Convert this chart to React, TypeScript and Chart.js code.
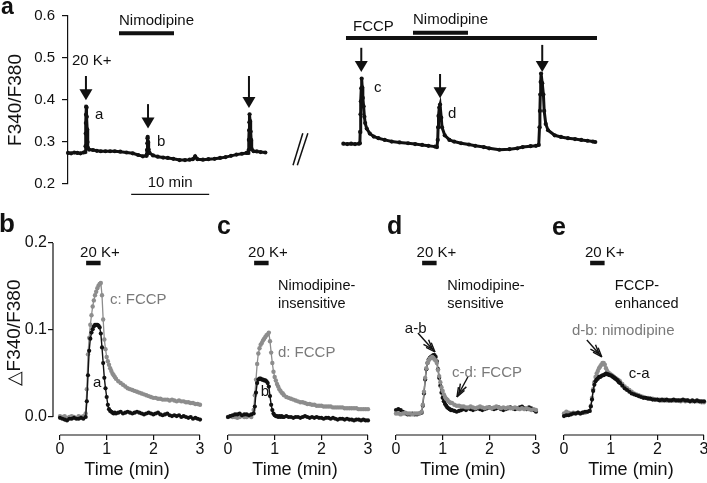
import React, { useEffect, useRef } from "react";
import { Chart, registerables } from "chart.js";

Chart.register(...registerables);

const FONT = '"Liberation Sans", Arial, Helvetica, sans-serif';
const INK = "#111111";
const GRAY = "#8d8d8d";
const GRAY_TEXT = "#7a7a7a";
const CW = 720;
const CH = 483;

// ---------------- panel a : F340/F380 ratio (time in min) ----------------
const A_Y_TICKS = [0.2, 0.3, 0.4, 0.5, 0.6];
const A_LEFT: [number, number][] = [
  [0.0, 0.274], [0.4, 0.273], [0.8, 0.275], [1.2, 0.274], [1.6, 0.273], [2.0, 0.275], [2.2, 0.276],
  [2.25, 0.29], [2.27, 0.32], [2.29, 0.345], [2.31, 0.365], [2.33, 0.384], [2.38, 0.382], [2.42, 0.36],
  [2.46, 0.33], [2.5, 0.3], [2.56, 0.286], [2.7, 0.282],
  [3.2, 0.281], [3.7, 0.279], [4.2, 0.278], [4.8, 0.278], [5.4, 0.278], [6.0, 0.278], [6.7, 0.277],
  [7.5, 0.275], [8.3, 0.273], [9.0, 0.269], [9.6, 0.266], [10.05, 0.267],
  [10.1, 0.27], [10.13, 0.281], [10.16, 0.297], [10.19, 0.309], [10.22, 0.312], [10.28, 0.3], [10.34, 0.282], [10.45, 0.274],
  [10.9, 0.268], [11.5, 0.265], [12.2, 0.263], [12.8, 0.262], [13.5, 0.26], [14.3, 0.257], [15.0, 0.257],
  [15.6, 0.258], [16.0, 0.259], [16.3, 0.266], [16.6, 0.259], [17.3, 0.258], [18.0, 0.259], [18.8, 0.26],
  [19.5, 0.262], [20.2, 0.264], [20.9, 0.267], [21.6, 0.27], [22.3, 0.272], [22.9, 0.274], [23.1, 0.274],
  [23.16, 0.281], [23.19, 0.305], [23.22, 0.328], [23.25, 0.347], [23.28, 0.366], [23.35, 0.35], [23.42, 0.325],
  [23.48, 0.305], [23.55, 0.283], [23.8, 0.278], [24.2, 0.2775], [24.7, 0.276], [25.3, 0.275],
];
const A_RIGHT: [number, number][] = [
  [35.3, 0.296], [35.8, 0.295], [36.3, 0.296], [36.8, 0.295], [37.3, 0.296], [37.42, 0.297],
  [37.46, 0.324], [37.5, 0.366], [37.55, 0.397], [37.6, 0.428], [37.65, 0.451], [37.72, 0.43], [37.8, 0.405],
  [37.9, 0.385], [38.0, 0.36], [38.1, 0.345], [38.3, 0.332], [38.7, 0.32], [39.2, 0.313], [39.8, 0.309],
  [40.6, 0.305], [41.5, 0.301], [42.5, 0.299], [43.6, 0.297], [44.5, 0.295], [45.4, 0.293], [46.2, 0.291],
  [47.05, 0.289], [47.3, 0.288],
  [47.4, 0.305], [47.45, 0.335], [47.5, 0.362], [47.6, 0.382], [47.7, 0.389], [47.85, 0.358], [47.95, 0.335],
  [48.3, 0.316], [48.9, 0.305], [49.5, 0.301], [50.4, 0.297], [51.4, 0.294], [52.2, 0.291], [53.3, 0.288],
  [54.0, 0.285], [55.3, 0.2815], [56.6, 0.283], [57.6, 0.285], [58.3, 0.288], [59.3, 0.29], [60.0, 0.291], [60.35, 0.293],
  [60.45, 0.335], [60.5, 0.374], [60.55, 0.413], [60.6, 0.443], [60.65, 0.463], [60.8, 0.44], [60.95, 0.413],
  [61.05, 0.374], [61.25, 0.343], [61.55, 0.328], [62.4, 0.316], [63.2, 0.312], [64.1, 0.309], [65.0, 0.307],
  [65.8, 0.305], [66.6, 0.303], [67.3, 0.301], [67.6, 0.3],
];

// ---------------- panels b-e : ΔF340/F380 vs time (min) ----------------
const X_TICKS = [0, 1, 2, 3];
const DY_TICKS = [0, 0.1, 0.2];
const TIME = [
  0, 0.05, 0.1, 0.15, 0.2, 0.25, 0.3, 0.35, 0.4, 0.45, 0.5,
  0.55, 0.575, 0.6, 0.625, 0.65, 0.675, 0.7, 0.725, 0.75, 0.775, 0.8, 0.825, 0.85, 0.875, 0.9, 0.925, 0.95,
  0.975, 1, 1.025, 1.05, 1.075, 1.1, 1.125, 1.15, 1.175, 1.2,
  1.25, 1.3, 1.35, 1.4, 1.45, 1.5, 1.55, 1.6, 1.65, 1.7, 1.75, 1.8, 1.85, 1.9, 1.95, 2, 2.05, 2.1, 2.15, 2.2,
  2.25, 2.3, 2.35, 2.4, 2.45, 2.5, 2.55, 2.6, 2.65, 2.7, 2.75, 2.8, 2.85, 2.9, 2.95, 3,
];
// b
const B_A = [
  -0.001, -0.002, -0.003, -0.004, -0.002, -0.002, -0.001, -0.002, -0.002, -0.001, -0.002,
  0.0, 0.018, 0.048, 0.076, 0.09, 0.097, 0.101, 0.104, 0.106, 0.106, 0.106, 0.105, 0.103, 0.096, 0.08, 0.062, 0.045,
  0.033, 0.023, 0.014, 0.009, 0.007, 0.006, 0.005, 0.004, 0.005, 0.004,
  0.005, 0.006, 0.004, 0.005, 0.006, 0.005, 0.004, 0.005, 0.006, 0.005, 0.004, 0.003, 0.004, 0.005, 0.004,
  0.003, 0.004, 0.005, 0.003, 0.002, 0.003, 0.004, 0.002, 0.001, 0.002, 0.001, 0.002, 0.0, 0.001, 0.0,
  -0.001, 0.0, -0.002, -0.001, -0.002, -0.003,
];
const B_C = [
  0.001, 0.0, 0.001, -0.001, 0.0, 0.001, 0.0, -0.001, 0.001, 0.0, 0.001,
  0.004, 0.032, 0.072, 0.091, 0.106, 0.117, 0.127, 0.134, 0.14, 0.144, 0.148, 0.151, 0.153, 0.154, 0.14, 0.112, 0.089,
  0.078, 0.069, 0.064, 0.06, 0.056, 0.053, 0.05, 0.048, 0.046, 0.044,
  0.041, 0.039, 0.037, 0.035, 0.033, 0.032, 0.031, 0.03, 0.029, 0.028, 0.027, 0.026, 0.025, 0.024, 0.023,
  0.022, 0.022, 0.021, 0.021, 0.02, 0.02, 0.02, 0.019, 0.02, 0.019, 0.018, 0.019, 0.018, 0.018, 0.017,
  0.017, 0.016, 0.016, 0.015, 0.015, 0.014,
];
// c
const C_B = [
  0.0, 0.001, 0.002, 0.003, 0.003, 0.004, 0.002, 0.003, 0.003, 0.002, 0.003,
  0.004, 0.012, 0.028, 0.039, 0.043, 0.044, 0.044, 0.043, 0.043, 0.042, 0.042, 0.041, 0.039, 0.035, 0.024, 0.014, 0.008,
  0.004, 0.002, 0.001, 0.001, 0.0, 0.001, 0.0, 0.001, 0.0, 0.0,
  0.001, 0.0, 0.0, -0.001, 0.0, 0.0, -0.001, 0.0, 0.001, 0.0, -0.001, 0.0, -0.001, 0.0, -0.001,
  -0.001, -0.002, -0.001, -0.001, -0.002, -0.001, -0.002, -0.003, -0.002, -0.002, -0.003, -0.002, -0.003, -0.003, -0.004,
  -0.003, -0.003, -0.004, -0.003, -0.004, -0.004,
];
const C_D = [
  0.0, 0.001, 0.0, 0.0, -0.001, 0.0, 0.001, 0.0, 0.0, 0.001, 0.0,
  0.008, 0.025, 0.043, 0.061, 0.073, 0.079, 0.083, 0.085, 0.088, 0.09, 0.092, 0.094, 0.095, 0.097, 0.087, 0.074, 0.062,
  0.052, 0.046, 0.042, 0.038, 0.035, 0.032, 0.03, 0.028, 0.027, 0.025,
  0.023, 0.022, 0.021, 0.02, 0.019, 0.018, 0.017, 0.017, 0.016, 0.015, 0.015, 0.014, 0.014, 0.013, 0.013,
  0.013, 0.012, 0.012, 0.012, 0.012, 0.011, 0.011, 0.011, 0.011, 0.011, 0.01, 0.01, 0.01, 0.01, 0.01,
  0.01, 0.009, 0.009, 0.009, 0.009, 0.009,
];
// d
const D_AB = [
  0.008, 0.009, 0.008, 0.006, 0.004, 0.003, 0.003, 0.004, 0.003, 0.003, 0.004,
  0.005, 0.013, 0.027, 0.043, 0.055, 0.062, 0.066, 0.068, 0.069, 0.07, 0.071, 0.071, 0.069, 0.064, 0.055, 0.045, 0.036,
  0.028, 0.022, 0.018, 0.015, 0.013, 0.011, 0.01, 0.009, 0.008, 0.008,
  0.007, 0.006, 0.007, 0.008, 0.009, 0.008, 0.01, 0.009, 0.008, 0.009, 0.01, 0.009, 0.008, 0.009, 0.01,
  0.011, 0.01, 0.009, 0.01, 0.011, 0.009, 0.008, 0.009, 0.01, 0.011, 0.01, 0.009, 0.01, 0.011, 0.012,
  0.01, 0.009, 0.011, 0.01, 0.008, 0.006,
];
const D_CD = [
  0.004, 0.004, 0.003, 0.004, 0.005, 0.004, 0.004, 0.003, 0.004, 0.004, 0.004,
  0.006, 0.014, 0.029, 0.045, 0.056, 0.062, 0.065, 0.067, 0.068, 0.069, 0.068, 0.066, 0.065, 0.062, 0.054, 0.047, 0.04,
  0.034, 0.03, 0.026, 0.023, 0.021, 0.02, 0.018, 0.017, 0.016, 0.016,
  0.014, 0.013, 0.013, 0.012, 0.012, 0.011, 0.011, 0.012, 0.011, 0.01, 0.011, 0.012, 0.011, 0.01, 0.011,
  0.011, 0.01, 0.011, 0.012, 0.011, 0.01, 0.011, 0.01, 0.011, 0.01, 0.01, 0.011, 0.01, 0.009, 0.01,
  0.009, 0.01, 0.009, 0.008, 0.009, 0.008,
];
// e
const E_CA = [
  0.001, 0.002, 0.002, 0.003, 0.004, 0.004, 0.005, 0.004, 0.005, 0.006, 0.006,
  0.007, 0.012, 0.02, 0.03, 0.037, 0.041, 0.043, 0.044, 0.046, 0.046, 0.047, 0.048, 0.048, 0.049, 0.05, 0.049, 0.049,
  0.048, 0.048, 0.047, 0.046, 0.045, 0.044, 0.043, 0.042, 0.04, 0.039,
  0.036, 0.033, 0.031, 0.029, 0.027, 0.026, 0.025, 0.024, 0.023, 0.022, 0.022, 0.021, 0.021, 0.02, 0.02,
  0.02, 0.019, 0.02, 0.019, 0.02, 0.019, 0.019, 0.02, 0.019, 0.019, 0.019, 0.02, 0.019, 0.019, 0.018,
  0.019, 0.018, 0.019, 0.018, 0.018, 0.018,
];
const E_DB = [
  0.004, 0.006, 0.005, 0.004, 0.005, 0.004, 0.005, 0.004, 0.005, 0.005, 0.006,
  0.007, 0.013, 0.022, 0.032, 0.04, 0.046, 0.05, 0.053, 0.056, 0.058, 0.06, 0.062, 0.062, 0.06, 0.056, 0.053, 0.051,
  0.05, 0.049, 0.048, 0.047, 0.046, 0.045, 0.044, 0.043, 0.042, 0.041,
  0.038, 0.035, 0.033, 0.031, 0.029, 0.027, 0.026, 0.025, 0.024, 0.023, 0.022, 0.022, 0.021, 0.021, 0.02,
  0.02, 0.02, 0.019, 0.02, 0.019, 0.019, 0.019, 0.019, 0.019, 0.019, 0.018, 0.019, 0.018, 0.019, 0.018,
  0.018, 0.018, 0.018, 0.018, 0.017, 0.017,
];

// ---------------- drawing helpers ----------------
type Item = { [k: string]: any };

function annotPlugin(items: Item[]) {
  return {
    id: "annot",
    afterDatasetsDraw(chart: any) {
      const ctx: CanvasRenderingContext2D = chart.ctx;
      const xs = chart.scales.x;
      const ys = chart.scales.y;
      const area = chart.chartArea;
      ctx.save();
      for (const it of items) {
        const X = (t: number) => (it.abs ? t : xs.getPixelForValue(t));
        const Y = (v: number) => (it.abs ? v : ys.getPixelForValue(v));
        const col = it.color || INK;
        ctx.fillStyle = col;
        ctx.strokeStyle = col;
        ctx.lineCap = "butt";
        if (it.kind === "text") {
          ctx.font = `${it.bold ? "bold " : ""}${it.size || 15}px ${FONT}`;
          ctx.textAlign = it.align || "left";
          if (it.rot) {
            ctx.save();
            ctx.translate(X(it.x), Y(it.y));
            ctx.rotate(it.rot);
            ctx.textBaseline = "middle";
            ctx.fillText(it.text, 0, 0);
            ctx.restore();
          } else {
            ctx.textBaseline = "alphabetic";
            ctx.fillText(it.text, X(it.x), Y(it.y));
          }
        } else if (it.kind === "bar") {
          ctx.lineWidth = it.w;
          ctx.beginPath();
          ctx.moveTo(X(it.x1), Y(it.y));
          ctx.lineTo(X(it.x2), Y(it.y));
          ctx.stroke();
        } else if (it.kind === "line") {
          ctx.lineWidth = it.w || 1.2;
          ctx.beginPath();
          ctx.moveTo(X(it.x1), Y(it.y1));
          ctx.lineTo(X(it.x2), Y(it.y2));
          ctx.stroke();
        } else if (it.kind === "down") {
          const x = X(it.x);
          const y1 = Y(it.y1);
          const y2 = Y(it.y2);
          const hl = 11;
          const hw = 6.5;
          ctx.lineWidth = 2;
          ctx.beginPath();
          ctx.moveTo(x, y1);
          ctx.lineTo(x, y2 - hl + 1);
          ctx.stroke();
          ctx.beginPath();
          ctx.moveTo(x - hw, y2 - hl);
          ctx.lineTo(x + hw, y2 - hl);
          ctx.lineTo(x, y2);
          ctx.closePath();
          ctx.fill();
        } else if (it.kind === "open") {
          const x1 = X(it.x1), y1 = Y(it.y1), x2 = X(it.x2), y2 = Y(it.y2);
          const ang = Math.atan2(y2 - y1, x2 - x1);
          ctx.lineWidth = 1.4;
          ctx.beginPath();
          ctx.moveTo(x1, y1);
          ctx.lineTo(x2, y2);
          ctx.stroke();
          for (const back of [0, 4]) {
            const tx = x2 - back * Math.cos(ang);
            const ty = y2 - back * Math.sin(ang);
            ctx.beginPath();
            for (const s of [-1, 1]) {
              ctx.moveTo(tx, ty);
              ctx.lineTo(tx - 10 * Math.cos(ang + s * 0.35), ty - 10 * Math.sin(ang + s * 0.35));
            }
            ctx.stroke();
          }
        } else if (it.kind === "axisY") {
          ctx.lineWidth = 1.2;
          ctx.beginPath();
          ctx.moveTo(area.left, ys.getPixelForValue(it.y1));
          ctx.lineTo(area.left, ys.getPixelForValue(it.y2));
          ctx.stroke();
        } else if (it.kind === "axisX") {
          ctx.lineWidth = 1.2;
          ctx.beginPath();
          ctx.moveTo(xs.getPixelForValue(it.x1), area.bottom);
          ctx.lineTo(xs.getPixelForValue(it.x2), area.bottom);
          ctx.stroke();
        }
      }
      ctx.restore();
    },
  };
}

function traceSet(pts: { x: number; y: number }[], color: string, bw: number, pr: number) {
  return {
    data: pts,
    borderColor: color,
    backgroundColor: color,
    pointBackgroundColor: color,
    pointBorderColor: color,
    pointBorderWidth: 0,
    pointRadius: pr,
    borderWidth: bw,
    tension: 0,
    fill: false,
    clip: false,
  };
}

const toPts = (arr: [number, number][]) => arr.map(([x, y]) => ({ x, y }));
const timePts = (vals: number[]) => TIME.map((t, i) => ({ x: t, y: vals[i] }));

// ---------------- panel a config ----------------
function aConfig() {
  const left = 68;
  const right = 600;
  const ppm = 7.8;
  const items: Item[] = [
    { kind: "text", abs: true, x: 1, y: 14, text: "a", size: 23, bold: true },
    { kind: "text", x: 6.54, y: 0.5775, text: "Nimodipine", size: 15 },
    { kind: "bar", x1: 6.54, x2: 13.59, y: 0.559, w: 4 },
    { kind: "text", x: 0.51, y: 0.4827, text: "20 K+", size: 15 },
    { kind: "down", x: 2.3, y1: 0.4572, y2: 0.3994 },
    { kind: "text", x: 3.46, y: 0.3555, text: "a", size: 15 },
    { kind: "down", x: 10.26, y1: 0.3902, y2: 0.3324 },
    { kind: "text", x: 11.41, y: 0.2908, text: "b", size: 15 },
    { kind: "down", x: 23.2, y1: 0.4572, y2: 0.3809 },
    { kind: "bar", x1: 8.1, x2: 18.1, y: 0.1751, w: 1.2 },
    { kind: "text", x: 13.1, y: 0.1936, text: "10 min", size: 15, align: "center" },
    { kind: "line", x1: 28.85, y1: 0.2445, x2: 30.1, y2: 0.3208, w: 1.5 },
    { kind: "line", x1: 29.4, y1: 0.2445, x2: 30.75, y2: 0.3208, w: 1.5 },
    { kind: "bar", x1: 35.64, x2: 67.82, y: 0.5474, w: 4 },
    { kind: "text", x: 36.54, y: 0.5636, text: "FCCP", size: 15 },
    { kind: "bar", x1: 44.23, x2: 51.28, y: 0.5601, w: 4 },
    { kind: "text", x: 44.23, y: 0.5798, text: "Nimodipine", size: 15 },
    { kind: "down", x: 37.6, y1: 0.5243, y2: 0.4665 },
    { kind: "text", x: 39.23, y: 0.4179, text: "c", size: 15 },
    { kind: "down", x: 47.7, y1: 0.4619, y2: 0.404 },
    { kind: "text", x: 48.72, y: 0.3578, text: "d", size: 15 },
    { kind: "down", x: 60.8, y1: 0.5312, y2: 0.4665 },
  ];
  return {
    type: "line",
    data: {
      datasets: [traceSet(toPts(A_LEFT), INK, 3, 2.1), traceSet(toPts(A_RIGHT), INK, 3, 2.1)],
    },
    options: {
      responsive: false,
      animation: false,
      events: [],
      layout: { padding: { left: 0, right: CW - right, top: 11, bottom: CH - 184 } },
      plugins: { legend: { display: false }, tooltip: { enabled: false } },
      scales: {
        x: { type: "linear", display: false, min: 0, max: (right - left) / ppm },
        y: {
          type: "linear",
          min: 0.2,
          max: 0.6,
          afterFit: (s: any) => {
            s.width = left;
          },
          afterBuildTicks: (s: any) => {
            s.ticks = A_Y_TICKS.map((v) => ({ value: v }));
          },
          grid: { display: true, drawOnChartArea: false, drawTicks: true, tickLength: 6, color: INK, lineWidth: 1.2 },
          border: { display: true, color: INK, width: 1.2 },
          ticks: {
            font: { family: FONT, size: 15 },
            color: INK,
            padding: 7,
            callback: (v: any) => Number(v).toFixed(1),
          },
          title: {
            display: true,
            text: "F340/F380",
            font: { family: FONT, size: 19 },
            color: INK,
            padding: { top: 4, bottom: 4 },
          },
        },
      },
    },
    plugins: [annotPlugin(items)],
  };
}

// ---------------- panels b-e config ----------------
function panelConfig(x0: number, showY: boolean, datasets: any[], items: Item[]) {
  const ppm = 140 / 3;
  const xmin = -0.15;
  const xmax = 3.02;
  const left = x0 + xmin * ppm;
  const right = x0 + xmax * ppm;
  return {
    type: "line",
    data: { datasets },
    options: {
      responsive: false,
      animation: false,
      events: [],
      layout: { padding: { left: showY ? 0 : left, right: CW - right, top: 243, bottom: 0 } },
      plugins: { legend: { display: false }, tooltip: { enabled: false } },
      scales: {
        x: {
          type: "linear",
          min: xmin,
          max: xmax,
          afterFit: (s: any) => {
            s.height = 48;
          },
          afterBuildTicks: (s: any) => {
            s.ticks = X_TICKS.map((v) => ({ value: v }));
          },
          grid: { display: true, drawOnChartArea: false, drawTicks: true, tickLength: 5, color: INK, lineWidth: 1.2 },
          border: { display: false },
          ticks: {
            font: { family: FONT, size: 16 },
            color: INK,
            padding: 0,
            autoSkip: false,
            maxRotation: 0,
            callback: (v: any) => String(v),
          },
          title: {
            display: true,
            text: "Time (min)",
            font: { family: FONT, size: 18 },
            color: INK,
            padding: { top: 0, bottom: 2 },
          },
        },
        y: {
          type: "linear",
          display: showY,
          min: -0.0207,
          max: 0.2,
          afterFit: (s: any) => {
            s.width = showY ? left : 0;
          },
          afterBuildTicks: (s: any) => {
            s.ticks = DY_TICKS.map((v) => ({ value: v }));
          },
          grid: { display: true, drawOnChartArea: false, drawTicks: true, tickLength: 5, color: INK, lineWidth: 1.2 },
          border: { display: false },
          ticks: {
            font: { family: FONT, size: 16 },
            color: INK,
            padding: 1,
            callback: (v: any) => Number(v).toFixed(1),
          },
        },
      },
    },
    plugins: [annotPlugin(items)],
  };
}

const kBar = (tx: number): Item[] => [
  { kind: "text", x: tx, y: 0.1839, text: "20 K+", size: 15 },
  { kind: "bar", x1: 0.56, x2: 0.87, y: 0.177, w: 4.5 },
];

function bConfig() {
  return panelConfig(
    60,
    true,
    [traceSet(timePts(B_A), INK, 1.4, 2.1), traceSet(timePts(B_C), GRAY, 1.3, 2.2)],
    [
      { kind: "text", abs: true, x: -1, y: 232, text: "b", size: 26, bold: true },
      { kind: "text", abs: true, x: 15, y: 333, text: "△F340/F380", size: 19, rot: -Math.PI / 2, align: "center" },
      { kind: "axisY", y1: 0, y2: 0.2 },
      { kind: "axisX", x1: 0, x2: 3 },
      ...kBar(0.43),
      { kind: "text", x: 1.07, y: 0.1299, text: "c: FCCP", size: 15, color: GRAY_TEXT },
      { kind: "text", x: 0.707, y: 0.0345, text: "a", size: 15 },
    ]
  );
}

function cConfig() {
  return panelConfig(
    228,
    false,
    [traceSet(timePts(C_B), INK, 1.4, 2.1), traceSet(timePts(C_D), GRAY, 1.3, 2.2)],
    [
      { kind: "text", abs: true, x: 217, y: 234, text: "c", size: 25, bold: true },
      { kind: "axisX", x1: 0, x2: 3 },
      ...kBar(0.43),
      { kind: "text", x: 1.07, y: 0.1454, text: "Nimodipine-", size: 14.5 },
      { kind: "text", x: 1.07, y: 0.1253, text: "insensitive", size: 14.5 },
      { kind: "text", x: 1.07, y: 0.069, text: "d: FCCP", size: 15, color: GRAY_TEXT },
      { kind: "text", x: 0.7, y: 0.024, text: "b", size: 15 },
    ]
  );
}

function dConfig() {
  return panelConfig(
    396,
    false,
    [traceSet(timePts(D_CD), GRAY, 1.3, 2.2), traceSet(timePts(D_AB), INK, 1.4, 2.1)],
    [
      { kind: "text", abs: true, x: 387, y: 234, text: "d", size: 25, bold: true },
      { kind: "axisX", x1: 0, x2: 3 },
      ...kBar(0.44),
      { kind: "text", x: 1.1, y: 0.1454, text: "Nimodipine-", size: 14.5 },
      { kind: "text", x: 1.1, y: 0.1253, text: "sensitive", size: 14.5 },
      { kind: "text", x: 0.19, y: 0.0969, text: "a-b", size: 15 },
      { kind: "open", x1: 0.47, y1: 0.0966, x2: 0.835, y2: 0.0747 },
      { kind: "text", x: 1.2, y: 0.0463, text: "c-d: FCCP", size: 15, color: GRAY_TEXT },
      { kind: "open", x1: 1.54, y1: 0.046, x2: 1.306, y2: 0.023 },
    ]
  );
}

function eConfig() {
  return panelConfig(
    564,
    false,
    [traceSet(timePts(E_CA), INK, 1.4, 2.1), traceSet(timePts(E_DB), GRAY, 1.3, 2.2)],
    [
      { kind: "text", abs: true, x: 552, y: 235, text: "e", size: 25, bold: true },
      { kind: "axisX", x1: 0, x2: 3 },
      ...kBar(0.45),
      { kind: "text", x: 1.09, y: 0.1454, text: "FCCP-", size: 14.5 },
      { kind: "text", x: 1.09, y: 0.1253, text: "enhanced", size: 14.5 },
      { kind: "text", x: 0.17, y: 0.0943, text: "d-b: nimodipine", size: 15, color: GRAY_TEXT },
      { kind: "open", x1: 0.49, y1: 0.0885, x2: 0.81, y2: 0.069 },
      { kind: "text", x: 1.39, y: 0.0448, text: "c-a", size: 15 },
    ]
  );
}

export default function App() {
  const r0 = useRef<HTMLCanvasElement>(null);
  const r1 = useRef<HTMLCanvasElement>(null);
  const r2 = useRef<HTMLCanvasElement>(null);
  const r3 = useRef<HTMLCanvasElement>(null);
  const r4 = useRef<HTMLCanvasElement>(null);
  const refs = [r0, r1, r2, r3, r4];

  useEffect(() => {
    const cfgs = [aConfig(), bConfig(), cConfig(), dConfig(), eConfig()];
    const charts = cfgs.map((cfg, i) => new Chart(refs[i].current as HTMLCanvasElement, cfg as any));
    return () => charts.forEach((c) => c.destroy());
  }, []);

  const cs: React.CSSProperties = { position: "absolute", left: 0, top: 0, width: CW, height: CH };
  return (
    <div
      style={{
        position: "absolute",
        left: 0,
        top: 0,
        width: 707,
        height: 483,
        overflow: "hidden",
        background: "#ffffff",
      }}
    >
      {refs.map((r, i) => (
        <canvas key={i} ref={r} width={CW} height={CH} style={cs} />
      ))}
    </div>
  );
}
